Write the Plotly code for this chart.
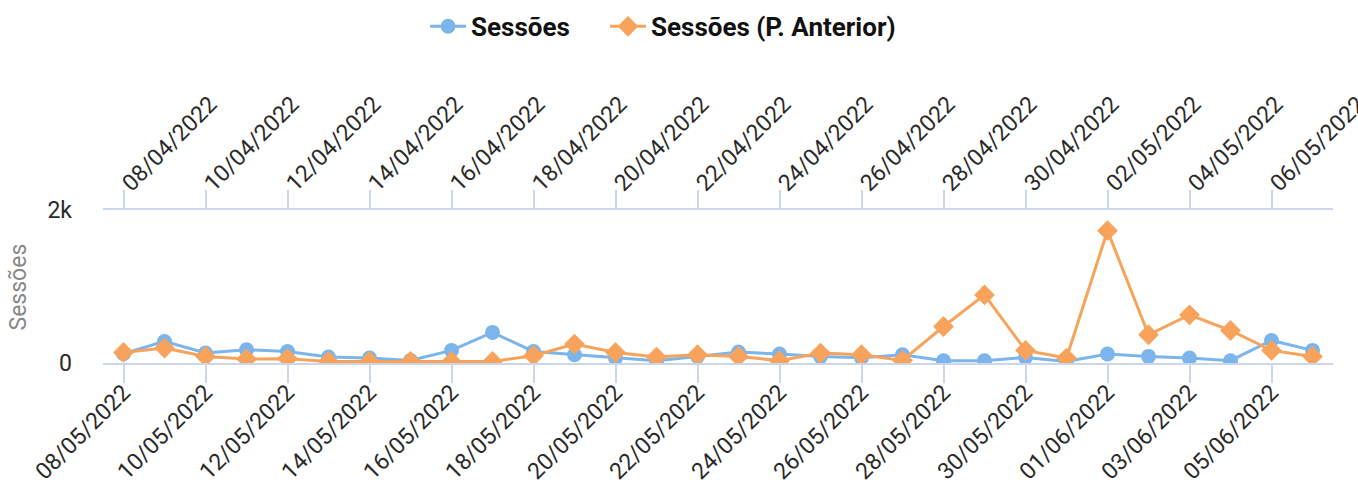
import plotly.graph_objects as go

dates_current = ["08/05/2022","09/05/2022","10/05/2022","11/05/2022","12/05/2022","13/05/2022",
                 "14/05/2022","15/05/2022","16/05/2022","17/05/2022","18/05/2022","19/05/2022",
                 "20/05/2022","21/05/2022","22/05/2022","23/05/2022","24/05/2022","25/05/2022",
                 "26/05/2022","27/05/2022","28/05/2022","29/05/2022","30/05/2022","31/05/2022",
                 "01/06/2022","02/06/2022","03/06/2022","04/06/2022","05/06/2022","06/06/2022"]
dates_previous = ["08/04/2022","09/04/2022","10/04/2022","11/04/2022","12/04/2022","13/04/2022",
                  "14/04/2022","15/04/2022","16/04/2022","17/04/2022","18/04/2022","19/04/2022",
                  "20/04/2022","21/04/2022","22/04/2022","23/04/2022","24/04/2022","25/04/2022",
                  "26/04/2022","27/04/2022","28/04/2022","29/04/2022","30/04/2022","01/05/2022",
                  "02/05/2022","03/05/2022","04/05/2022","05/05/2022","06/05/2022","07/05/2022"]
sessions = [121, 282, 130, 173, 151, 78, 65, 34, 165, 400, 151, 108, 65, 30, 86, 143, 117, 86,
            70, 108, 30, 30, 73, 21, 117, 86, 65, 30, 295, 165]
sessions_prev = [138, 195, 86, 52, 56, 21, 21, 21, 21, 20, 95, 248, 138, 78, 108, 86, 30, 130,
                 108, 34, 477, 890, 165, 65, 1730, 369, 630, 425, 165, 86]
y_ticks = [0, 2000]
y_tick_labels = ["0", "2k"]
y_title = "Sessões"

BLUE = "#7cb5ec"
ORANGE = "#f7a35c"
GRID = "#ccd6eb"
FONT = "Roboto"

fig = go.Figure()
fig.add_trace(go.Scatter(
    x=dates_current, y=sessions, name="Sessões", mode="lines+markers",
    line=dict(color=BLUE, width=3), marker=dict(symbol="circle", size=15, color=BLUE),
    xaxis="x", yaxis="y", legend="legend"))
fig.add_trace(go.Scatter(
    x=dates_previous, y=sessions_prev, name="Sessões (P. Anterior)", mode="lines+markers",
    line=dict(color=ORANGE, width=3), marker=dict(symbol="diamond", size=16, color=ORANGE),
    xaxis="x2", yaxis="y", legend="legend2"))

n = len(dates_current)
common_x = dict(
    type="category", range=[-0.5, n - 0.5], showgrid=False, zeroline=False, automargin=False,
    ticks="outside", ticklen=18, tickwidth=2, tickcolor=GRID, tickangle=-45,
    showline=True, linecolor=GRID, linewidth=2,
    tickfont=dict(family=FONT, size=23, color="#2a2a2a"),
)
legend_common = dict(orientation="h", xref="container", yref="container", y=0.994,
                     xanchor="left", yanchor="top",
                     font=dict(family=FONT, size=26, color="#111111", weight="bold"),
                     itemwidth=36)
fig.update_layout(
    width=1358, height=483,
    margin=dict(l=103, r=25, t=210, b=120),
    paper_bgcolor="white", plot_bgcolor="white",
    font=dict(family=FONT),
    xaxis=dict(**common_x, tickmode="array", tickvals=dates_current[::2], ticktext=dates_current[::2],
               side="bottom", ticklabelstandoff=-13),
    xaxis2=dict(**common_x, tickmode="array", tickvals=dates_previous[::2], ticktext=dates_previous[::2],
                overlaying="x", side="top", ticklabelstandoff=-15),
    yaxis=dict(range=[0, 2000], tickmode="array", tickvals=y_ticks, ticktext=y_tick_labels,
               showgrid=True, gridcolor=GRID, gridwidth=2, zeroline=False, showline=False,
               automargin=False,
               tickfont=dict(family=FONT, size=23, color="#2a2a2a"), ticklabelstandoff=30),
    legend=dict(**legend_common, x=0.313),
    legend2=dict(**legend_common, x=0.4455),
    showlegend=True,
    annotations=[dict(text=y_title, textangle=-90, xref="paper", yref="paper",
                      x=-0.0683, y=0.5, xanchor="center", yanchor="middle", showarrow=False,
                      font=dict(family=FONT, size=23, color="#888888"))],
)
fig.write_html("out.html", config={"displayModeBar": False},
               post_script="document.body.style.margin='0px';")
